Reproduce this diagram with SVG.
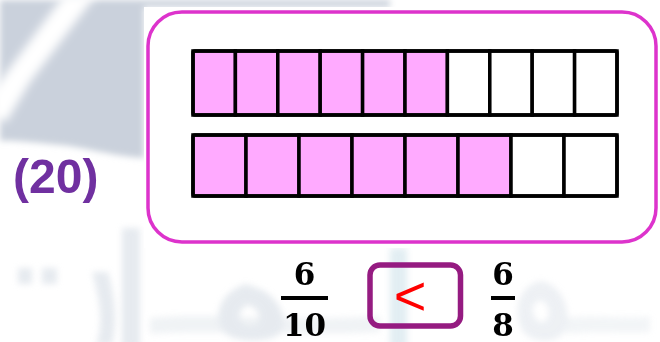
<svg xmlns="http://www.w3.org/2000/svg" width="660" height="342" viewBox="0 0 660 342">
<defs>
<style>
.cell{stroke:#000;stroke-width:3.5}
.pink{fill:#FFAAFF}
.white{fill:#FFFFFF}
.frame{fill:none;stroke:#000;stroke-width:3.5}
.num{font-family:"DejaVu Serif","Liberation Serif",serif;font-weight:bold;font-size:31px;fill:#000;text-anchor:middle}
.bar{stroke:#000;stroke-width:4}
.wm{fill:#D6DDE5}
</style>
<filter id="blur" x="-20%" y="-20%" width="140%" height="140%"><feGaussianBlur stdDeviation="3"/></filter>
<filter id="blur2" x="-20%" y="-20%" width="140%" height="140%"><feGaussianBlur stdDeviation="5"/></filter>
</defs>
<g id="background">
<rect x="0" y="0" width="660" height="342" fill="#FFFFFF"/>
<path d="M0 0 H390 V7 H144 V158 C110 156 90 148 60 145 C35 143 15 140 0 141 Z" fill="#CAD1DC" filter="url(#blur)"/>
<path d="M64 -5 L96 -5 L30 82 L6 122 L-8 116 L-8 92 Z" fill="#FFFFFF" filter="url(#blur2)"/>
<g id="watermark" filter="url(#blur)" opacity="0.6">
<rect class="wm" x="18" y="268" width="14" height="16"/>
<rect class="wm" x="42" y="268" width="15" height="16"/>
<path class="wm" d="M92 272 C100 300 104 325 96 345 L112 345 C118 320 114 295 108 272 Z"/>
<rect class="wm" x="122" y="228" width="18" height="120"/>
<path class="wm" d="M150 318 C200 312 300 322 380 316 V332 C300 336 200 330 150 334 Z" opacity="0.6"/>
<path class="wm" d="M246 284 C225 290 212 310 222 330 C230 342 262 344 278 335 C290 326 282 300 262 290 Z M246 305 C256 306 264 316 256 324 C248 328 236 322 240 312 Z" fill-rule="evenodd"/>
<rect x="390" y="248" width="17" height="100" fill="#CFE2EA"/>
<path class="wm" d="M540 281 C520 285 512 310 522 330 C532 345 560 345 566 328 C572 308 560 283 540 281 Z M540 300 C550 302 552 318 544 322 C536 324 530 312 534 304 Z" fill-rule="evenodd" opacity="0.7"/>
<path class="wm" d="M566 318 C600 314 630 320 650 316 V332 C630 334 600 330 566 334 Z" opacity="0.5"/>
</g>
<rect x="144" y="7" width="516" height="241" fill="#FFFFFF"/>
</g>
<g id="label">
<text x="13" y="193" font-family="'Liberation Sans',Arial,sans-serif" font-weight="bold" font-size="48" fill="#7030A0">(20)</text>
</g>
<g id="panel">
<rect x="148" y="12" width="508" height="230" rx="34" ry="34" fill="#FFFFFF" stroke="#DD33CC" stroke-width="3.5"/>
</g>
<g id="tenths">
<rect class="cell pink" x="193" y="51" width="42.4" height="64"/>
<rect class="cell pink" x="235.4" y="51" width="42.4" height="64"/>
<rect class="cell pink" x="277.8" y="51" width="42.4" height="64"/>
<rect class="cell pink" x="320.2" y="51" width="42.4" height="64"/>
<rect class="cell pink" x="362.6" y="51" width="42.4" height="64"/>
<rect class="cell pink" x="405" y="51" width="42.4" height="64"/>
<rect class="cell white" x="447.4" y="51" width="42.4" height="64"/>
<rect class="cell white" x="489.8" y="51" width="42.4" height="64"/>
<rect class="cell white" x="532.2" y="51" width="42.4" height="64"/>
<rect class="cell white" x="574.6" y="51" width="42.4" height="64"/>
<rect class="frame" x="193" y="51" width="424" height="64" rx="2"/>
</g>
<g id="eighths">
<rect class="cell pink" x="193" y="135" width="53" height="61"/>
<rect class="cell pink" x="246" y="135" width="53" height="61"/>
<rect class="cell pink" x="299" y="135" width="53" height="61"/>
<rect class="cell pink" x="352" y="135" width="53" height="61"/>
<rect class="cell pink" x="405" y="135" width="53" height="61"/>
<rect class="cell pink" x="458" y="135" width="53" height="61"/>
<rect class="cell white" x="511" y="135" width="53" height="61"/>
<rect class="cell white" x="564" y="135" width="53" height="61"/>
<rect class="frame" x="193" y="135" width="424" height="61" rx="2"/>
</g>
<g id="fraction-left">
<text class="num" x="304.5" y="285">6</text>
<line class="bar" x1="281" y1="298" x2="328" y2="298"/>
<text class="num" x="304.5" y="336">10</text>
</g>
<g id="comparison">
<rect x="370" y="265" width="90.5" height="61" rx="10" ry="10" fill="none" stroke="#951B81" stroke-width="5.5"/>
<text x="410" y="315" font-family="'Liberation Sans',Arial,sans-serif" font-size="56" fill="#FF0000" text-anchor="middle">&lt;</text>
</g>
<g id="fraction-right">
<text class="num" x="503" y="285">6</text>
<line class="bar" x1="491" y1="298" x2="515" y2="298"/>
<text class="num" x="503" y="336">8</text>
</g>
<g id="connectors"/>
</svg>
